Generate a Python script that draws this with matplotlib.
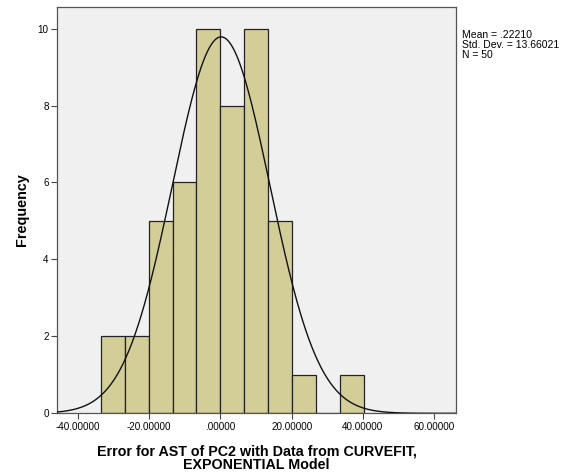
import numpy as np
import matplotlib.pyplot as plt
plt.rcParams['font.family'] = ['Liberation Sans', 'DejaVu Sans']

#%% Data
bin_edges = [-33.5, -26.8, -20.1, -13.4, -6.7, 0.0, 6.7, 13.4, 20.1, 26.8, 33.5, 40.2]
counts = [2, 2, 5, 6, 10, 8, 10, 5, 1, 0, 1]
mean, std_dev, n = 0.22210, 13.66021, 50
x_ticks = [-40, -20, 0, 20, 40, 60]
x_tick_labels = ['-40.00000', '-20.00000', '.00000', '20.00000', '40.00000', '60.00000']
y_ticks = [0, 2, 4, 6, 8, 10]

#%% Plot
fig = plt.figure(figsize=(5.68, 4.74), dpi=100)
ax = fig.add_axes([0.1004, 0.128, 0.7024, 0.858])
ax.set_facecolor('#F0F0F0')

edges = np.array(bin_edges)
widths = np.diff(edges)
ax.bar(edges[:-1], counts, width=widths, align='edge', color='#D3CE97',
       edgecolor='#222222', linewidth=0.9, zorder=2)

# normal curve scaled to counts
xlim = (-45.8, 66.1)
xs = np.linspace(xlim[0], xlim[1], 400)
bw = widths.mean()
pdf = n * bw / (std_dev * np.sqrt(2 * np.pi)) * np.exp(-0.5 * ((xs - mean) / std_dev) ** 2)
ax.plot(xs, pdf, color='#111111', linewidth=1.0, zorder=3)

ax.set_xlim(*xlim)
ax.set_ylim(0, 10.57)
ax.set_xticks(x_ticks)
ax.set_xticklabels(x_tick_labels)
ax.set_yticks(y_ticks)
ax.tick_params(axis='both', labelsize=7.1, length=4, width=0.8, color='#444444', pad=2)
for s in ax.spines.values():
    s.set_color('#555555')
    s.set_linewidth(0.9)

ax.set_ylabel('Frequency', fontsize=10.4, fontweight='bold', labelpad=6)
ax.set_xlabel('Error for AST of PC2 with Data from CURVEFIT,\nEXPONENTIAL Model',
              fontsize=10.3, fontweight='bold', labelpad=9, linespacing=0.95)

fig.text(0.8134, 0.937, 'Mean = .22210\nStd. Dev. = 13.66021\nN = 50',
         fontsize=7.5, va='top', ha='left', linespacing=1.0)

plt.savefig('out.png', dpi=100)
